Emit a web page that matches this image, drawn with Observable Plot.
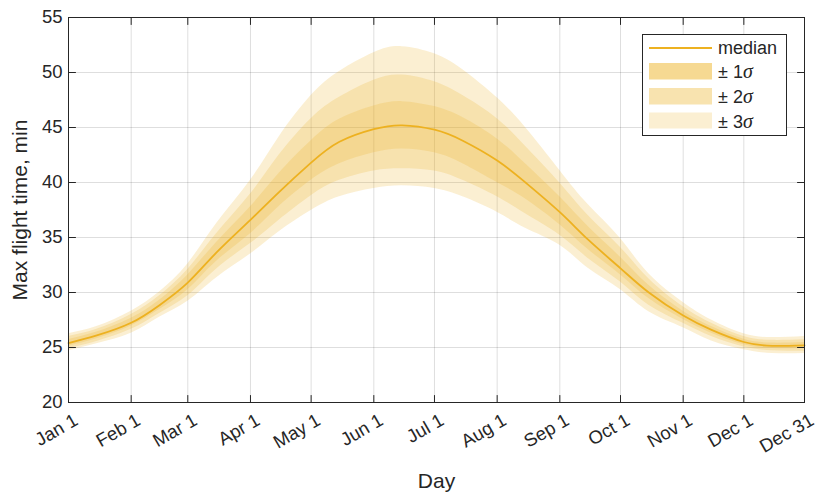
<!DOCTYPE html>
<html><head><meta charset="utf-8">
<script src="https://cdn.jsdelivr.net/npm/d3@7"></script>
<script src="https://cdn.jsdelivr.net/npm/@observablehq/plot@0.6"></script>
<style>
body{margin:0;background:#fff;}
#wrap{position:relative;width:818px;height:501px;font-family:"Liberation Sans",Arial,Helvetica,sans-serif;}
#legend{position:absolute;left:642px;top:34px;}
</style></head><body>
<div id="wrap"></div>
<script>
const days   = [1, 15, 32, 46, 60, 74, 91, 105, 121, 135, 152, 166, 182, 196, 213, 227, 244, 258, 274, 288, 305, 319, 335, 349, 365];
const median = [25.4, 26.1, 27.25, 28.85, 30.9, 33.6, 36.6, 39.1, 41.8, 43.7, 44.85, 45.2, 44.8, 43.8, 42.0, 40.0, 37.3, 34.8, 32.2, 30.0, 27.9, 26.6, 25.5, 25.15, 25.2];
const upper1 = [25.72, 26.4, 27.65, 29.3, 31.6, 34.5, 37.8, 40.8, 43.8, 45.75, 46.95, 47.35, 46.9, 45.9, 43.96, 41.7, 38.7, 36.0, 33.2, 30.65, 28.3, 26.9, 25.75, 25.4, 25.45];
const upper2 = [26.0, 26.65, 28.0, 29.7, 32.1, 35.3, 38.95, 42.45, 45.8, 47.75, 49.3, 49.77, 49.15, 47.9, 45.8, 43.3, 39.95, 37.0, 34.1, 31.25, 28.7, 27.2, 26.0, 25.65, 25.7];
const upper3 = [26.25, 26.9, 28.3, 30.05, 32.6, 36.2, 40.2, 44.1, 47.9, 50.1, 51.8, 52.35, 51.7, 50.25, 47.7, 45.0, 41.1, 38.0, 34.9, 31.7, 29.1, 27.5, 26.25, 25.9, 26.0];
const lower1 = [25.12, 25.8, 26.95, 28.45, 30.25, 32.8, 35.35, 37.8, 40.2, 41.7, 42.7, 43.05, 42.7, 41.7, 40.0, 38.5, 36.15, 33.9, 31.6, 29.45, 27.55, 26.3, 25.25, 24.9, 24.9];
const lower2 = [24.9, 25.55, 26.65, 28.1, 29.7, 32.1, 34.45, 36.55, 38.8, 40.2, 41.05, 41.25, 41.05, 40.2, 38.7, 37.15, 35.2, 33.1, 30.95, 28.85, 27.2, 26.0, 25.05, 24.7, 24.65];
const lower3 = [24.7, 25.35, 26.3, 27.75, 29.2, 31.3, 33.5, 35.5, 37.45, 38.7, 39.45, 39.7, 39.45, 38.7, 37.3, 35.85, 34.3, 32.2, 30.25, 28.25, 26.8, 25.6, 24.8, 24.45, 24.45];

const tickDays   = [1, 32, 60, 91, 121, 152, 182, 213, 244, 274, 305, 335, 365];
const tickLabels = ["Jan 1", "Feb 1", "Mar 1", "Apr 1", "May 1", "Jun 1", "Jul 1", "Aug 1", "Sep 1", "Oct 1", "Nov 1", "Dec 1", "Dec 31"];
const yTicks     = [20, 25, 30, 35, 40, 45, 50, 55];

const data = days.map((d, i) => ({
  day: d, median: median[i],
  u1: upper1[i], u2: upper2[i], u3: upper3[i],
  l1: lower1[i], l2: lower2[i], l3: lower3[i]
}));
const labelOf = new Map(tickDays.map((d, i) => [d, tickLabels[i]]));

const GOLD = "#EDB120";
const INK = "#262626";
const gridStyle = {stroke: "#000", strokeOpacity: 0.13, strokeWidth: 1};
const tickShape = {draw(context, l) { context.moveTo(0, 0); context.lineTo(0, -l); }};
const tickOpts = {length: 7, anchor: "start", shape: tickShape, stroke: INK, strokeWidth: 1};

const chart = Plot.plot({
  width: 818, height: 501,
  marginLeft: 68, marginRight: 14, marginTop: 17, marginBottom: 99,
  style: {fontFamily: '"Liberation Sans", Arial, Helvetica, sans-serif', fontSize: "18.5px", color: INK, background: "white"},
  x: {domain: [1, 365], label: null, axis: null},
  y: {domain: [20, 55], label: null, axis: null},
  marks: [
    Plot.gridX(tickDays, gridStyle),
    Plot.gridY(yTicks, gridStyle),
    Plot.areaY(data, {x: "day", y1: "l3", y2: "u3", fill: GOLD, fillOpacity: 0.2, curve: "natural"}),
    Plot.areaY(data, {x: "day", y1: "l2", y2: "u2", fill: GOLD, fillOpacity: 0.2, curve: "natural"}),
    Plot.areaY(data, {x: "day", y1: "l1", y2: "u1", fill: GOLD, fillOpacity: 0.2, curve: "natural"}),
    Plot.line(data, {x: "day", y: "median", stroke: GOLD, strokeWidth: 1.8, curve: "natural"}),
    Plot.frame({stroke: INK, strokeWidth: 1}),
    Plot.vector(tickDays, {x: d => d, y: 20, rotate: 0, ...tickOpts}),
    Plot.vector(tickDays, {x: d => d, y: 55, rotate: 180, ...tickOpts}),
    Plot.vector(yTicks, {x: 1, y: d => d, rotate: 90, ...tickOpts}),
    Plot.vector(yTicks, {x: 365, y: d => d, rotate: -90, ...tickOpts}),
    Plot.text(tickDays, {x: d => d, y: 20, text: d => labelOf.get(d), rotate: -30, textAnchor: "end", lineAnchor: "top", dx: 4, dy: 10, fill: INK}),
    Plot.text(yTicks, {x: 1, y: d => d, text: d => String(d), textAnchor: "end", dx: -6, fill: INK}),
    Plot.text(["Day"], {frameAnchor: "bottom", lineAnchor: "bottom", dy: 85, fontSize: 21, fill: INK}),
    Plot.text(["Max flight time, min"], {frameAnchor: "left", textAnchor: "middle", rotate: -90, dx: -48, fontSize: 21, fill: INK})
  ]
});

const wrap = document.getElementById("wrap");
wrap.appendChild(chart);

const legend = document.createElement("div");
legend.id = "legend";
legend.innerHTML = `
<svg width="145" height="102" xmlns="http://www.w3.org/2000/svg" style="font-family:'Liberation Sans',Arial,sans-serif;font-size:18px;fill:${INK}">
  <rect x="0.5" y="0.5" width="144" height="101" fill="white" stroke="${INK}" stroke-width="1"/>
  <line x1="7" y1="14" x2="70" y2="14" stroke="${GOLD}" stroke-width="2"/>
  <rect x="7" y="29" width="63" height="16.5" fill="#F6D992"/>
  <rect x="7" y="54" width="63" height="16.5" fill="#F8E3AF"/>
  <rect x="7" y="78.5" width="63" height="16" fill="#FBEFD2"/>
  <text x="76" y="20">median</text>
  <text x="76" y="44">± 1<tspan font-family="'Liberation Serif',serif" font-style="italic" font-size="20">σ</tspan></text>
  <text x="76" y="69">± 2<tspan font-family="'Liberation Serif',serif" font-style="italic" font-size="20">σ</tspan></text>
  <text x="76" y="93.5">± 3<tspan font-family="'Liberation Serif',serif" font-style="italic" font-size="20">σ</tspan></text>
</svg>`;
wrap.appendChild(legend);
</script>
</body></html>
